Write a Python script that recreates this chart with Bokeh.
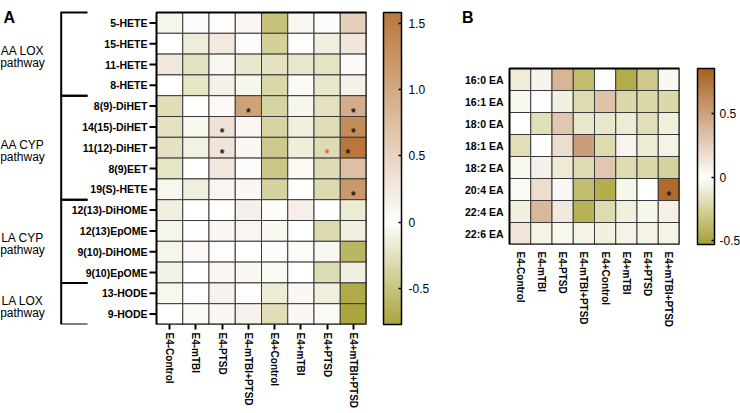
from bokeh.plotting import figure
from bokeh.models import (ColumnDataSource, LinearColorMapper, ColorBar, FixedTicker, Range1d)
from bokeh.core.properties import value
from bokeh.layouts import row, column
from bokeh.embed import file_html
from bokeh.resources import INLINE

# ---------------- data ----------------
groups = ["E4-Control", "E4-mTBI", "E4-PTSD", "E4-mTBI+PTSD",
          "E4+Control", "E4+mTBI", "E4+PTSD", "E4+mTBI+PTSD"]

lipids_a = ["5-HETE", "15-HETE", "11-HETE", "8-HETE",
            "8(9)-DiHET", "14(15)-DiHET", "11(12)-DiHET", "8(9)EET", "19(S)-HETE",
            "12(13)-DiHOME", "12(13)EpOME", "9(10)-DiHOME", "9(10)EpOME",
            "13-HODE", "9-HODE"]

values_a = [
    [-0.08, 0.05, 0.02, 0.12, -0.52, -0.06, 0.04, 0.55],
    [0.00, -0.15, 0.25, 0.03, -0.40, 0.02, -0.12, 0.30],
    [0.28, -0.25, -0.06, -0.20, -0.25, -0.20, -0.23, 0.06],
    [0.01, -0.22, 0.17, -0.08, -0.33, -0.04, -0.20, 0.18],
    [-0.28, 0.00, 0.07, 1.10, -0.36, -0.08, -0.24, 0.95],
    [-0.25, -0.07, 0.35, 0.10, -0.36, -0.13, -0.28, 1.35],
    [-0.24, -0.11, 0.33, 0.09, -0.45, -0.14, -0.30, 1.58],
    [-0.22, 0.01, 0.28, 0.03, -0.48, -0.04, -0.30, 0.75],
    [-0.07, -0.13, 0.12, 0.09, -0.38, 0.00, -0.32, 1.20],
    [-0.12, 0.01, 0.00, 0.17, -0.02, 0.20, 0.00, -0.17],
    [-0.09, 0.02, 0.10, 0.12, -0.06, 0.00, -0.32, -0.12],
    [-0.09, 0.08, 0.02, 0.01, 0.03, -0.03, -0.06, -0.62],
    [-0.10, 0.00, 0.10, 0.10, -0.05, 0.00, -0.30, -0.12],
    [-0.07, 0.02, 0.15, 0.02, -0.16, 0.09, -0.13, -0.72],
    [0.00, -0.05, 0.10, 0.15, -0.28, 0.09, -0.05, -0.77],
]

pathway_names = ["AA LOX", "AA CYP", "LA CYP", "LA LOX"]
pathway_word = "pathway"
pathway_sizes = [4, 5, 4, 2]

stars_a_lipid = ["8(9)-DiHET", "8(9)-DiHET", "14(15)-DiHET", "14(15)-DiHET",
                 "11(12)-DiHET", "11(12)-DiHET", "11(12)-DiHET", "11(12)-DiHET",
                 "19(S)-HETE"]
stars_a_group = ["E4-mTBI+PTSD", "E4+mTBI+PTSD", "E4-PTSD", "E4+mTBI+PTSD",
                 "E4-PTSD", "E4+PTSD", "E4+mTBI+PTSD", "E4+mTBI+PTSD",
                 "E4+mTBI+PTSD"]
stars_a_color = ["#1a1a1a", "#1a1a1a", "#1a1a1a", "#1a1a1a",
                 "#1a1a1a", "#f0603c", "#1a1a1a", "#f0603c", "#1a1a1a"]

cbar_a_low, cbar_a_high = -0.77, 1.58
cbar_a_ticks = [-0.5, 0.0, 0.5, 1.0, 1.5]
cbar_a_labels = ["-0.5", "0", "0.5", "1.0", "1.5"]

lipids_b = ["16:0 EA", "16:1 EA", "18:0 EA", "18:1 EA",
            "18:2 EA", "20:4 EA", "22:4 EA", "22:6 EA"]
values_b = [
    [-0.10, 0.07, 0.40, -0.37, 0.01, -0.46, -0.30, -0.04],
    [-0.04, 0.01, -0.08, -0.20, 0.33, -0.22, -0.22, -0.22],
    [0.00, -0.18, 0.30, -0.13, -0.13, -0.11, -0.18, -0.09],
    [-0.18, 0.00, 0.18, 0.52, -0.20, 0.06, -0.11, -0.07],
    [-0.04, 0.08, -0.11, -0.20, 0.30, -0.20, -0.22, -0.25],
    [-0.03, 0.18, 0.04, -0.37, -0.45, -0.05, 0.00, 0.80],
    [-0.08, 0.38, 0.12, -0.43, -0.20, -0.09, -0.05, 0.09],
    [0.14, -0.07, -0.04, -0.07, -0.08, -0.07, -0.07, -0.07],
]
stars_b_lipid = ["20:4 EA"]
stars_b_group = ["E4+mTBI+PTSD"]
stars_b_color = ["#1a1a1a"]

cbar_b_low, cbar_b_high = -0.53, 0.855
cbar_b_ticks = [-0.5, 0.0, 0.5]
cbar_b_labels = ["-0.5", "0", "0.5"]

# ---------------- helpers ----------------
FONT = value("Liberation Sans")


def build_palette(low, high, neg_rgb, pos_rgb, n=256):
    pal = []
    for i in range(n):
        v = low + (i + 0.5) * (high - low) / n
        if v < 0:
            t, end = v / low, neg_rgb
        else:
            t, end = v / high, pos_rgb
        rgb = tuple(int(round(255 + t * (e - 255))) for e in end)
        pal.append("#%02x%02x%02x" % rgb)
    return pal


def panel(lipids, values, mapper, cell_left, cell_top, cells_w, cells_h,
          fig_w, fig_h, tick_out, x_standoff, ylab_gap, ytick_len):
    """Frame spans the whole panel; cells sit at (cell_left, cell_top) px inside it.
    Data units: x = columns, y = rows counted downward."""
    nc, nr = len(groups), len(lipids)
    colw, rowh = cells_w / nc, cells_h / nr
    frame_w = cell_left + cells_w
    frame_h = cell_top + cells_h
    p = figure(x_range=Range1d(-cell_left / colw, nc),
               y_range=Range1d(nr, -cell_top / rowh),
               frame_width=frame_w, frame_height=frame_h,
               min_border_left=0, min_border_top=0,
               min_border_right=fig_w - frame_w, min_border_bottom=fig_h - frame_h,
               output_backend="svg", toolbar_location=None)
    p.grid.visible = False
    p.outline_line_color = None
    p.yaxis.visible = False
    p.background_fill_color = "white"
    p.border_fill_color = "white"

    xs, ys, vs = [], [], []
    for r in range(nr):
        for c in range(nc):
            xs.append(c + 0.5)
            ys.append(r + 0.5)
            vs.append(values[r][c])
    src = ColumnDataSource(dict(x=xs, y=ys, v=vs))
    p.rect(x="x", y="y", width=1, height=1, source=src,
           fill_color={"field": "v", "transform": mapper},
           line_color="#3a3a3a", line_width=1)
    # heavy border around the cells
    p.rect(x=[nc / 2], y=[nr / 2], width=[nc], height=[nr], fill_color=None,
           line_color="black", line_width=2)

    # row labels and ticks
    rows_c = [r + 0.5 for r in range(nr)]
    if ytick_len > 0:
        p.segment(x0=[-ytick_len / colw] * nr, x1=[0] * nr, y0=rows_c, y1=rows_c,
                  line_color="black", line_width=2)
    p.text(x=[-ylab_gap / colw] * nr, y=rows_c, text=lipids, text_font=FONT,
           text_font_style="bold", text_font_size="10.5px", text_color="black",
           text_align="right", text_baseline="middle")

    # column axis
    ax = p.xaxis[0]
    ticks = [c + 0.5 for c in range(nc)]
    ax.ticker = FixedTicker(ticks=ticks)
    ax.major_label_overrides = {t: g for t, g in zip(ticks, groups)}
    ax.axis_line_color = None
    ax.major_tick_line_color = "black" if tick_out > 0 else None
    ax.major_tick_line_width = 2
    ax.major_tick_in = 0
    ax.major_tick_out = tick_out
    ax.minor_tick_line_color = None
    ax.major_label_orientation = "vertical"
    ax.major_label_standoff = x_standoff
    ax.major_label_text_font = "Liberation Sans"
    ax.major_label_text_font_style = "bold"
    ax.major_label_text_font_size = "10px"
    ax.major_label_text_color = "black"
    return p, colw, rowh


def add_stars(p, lipids, s_lipid, s_group, s_color, colw, rowh):
    cells = {}
    for i, (l, g) in enumerate(zip(s_lipid, s_group)):
        cells.setdefault((l, g), []).append(i)
    xs, ys, cs = [], [], []
    for (l, g), idx in cells.items():
        k = len(idx)
        for j, i in enumerate(idx):
            dx_px = (j - (k - 1) / 2) * 11
            xs.append(groups.index(g) + 0.5 + dx_px / colw)
            ys.append(lipids.index(l) + 0.5 + 6.5 / rowh)
            cs.append(s_color[i])
    p.text(x=xs, y=ys, text=["*"] * len(xs), text_color=cs,
           text_font=FONT, text_font_style="bold", text_font_size="12px",
           text_align="center", text_baseline="alphabetic")


def colorbar(mapper, ticks, labels, x_loc, y_loc, width, height, standoff):
    return ColorBar(color_mapper=mapper, location=(x_loc, y_loc), orientation="vertical",
                    width=width, height=height, padding=0, margin=0,
                    ticker=FixedTicker(ticks=ticks),
                    major_label_overrides={t: s for t, s in zip(ticks, labels)},
                    bar_line_color="black", bar_line_width=1.5,
                    major_tick_line_color="black", major_tick_line_width=1.5,
                    major_tick_in=3, major_tick_out=0,
                    minor_tick_line_color=None,
                    label_standoff=standoff,
                    major_label_text_font="Liberation Sans",
                    major_label_text_font_size="12px",
                    major_label_text_color="black",
                    background_fill_color=None, border_line_color=None)


FIG_H = 412

# ---------------- panel A ----------------
map_a = LinearColorMapper(palette=build_palette(cbar_a_low, cbar_a_high,
                                                (170, 164, 60), (184, 120, 60)),
                          low=cbar_a_low, high=cbar_a_high)
CL_A, CT_A, CW_A, CH_A = 156, 12, 210, 312
pA, colw_a, rowh_a = panel(lipids_a, values_a, map_a, CL_A, CT_A, CW_A, CH_A,
                           450, FIG_H, 5, 3, 9, 7)
add_stars(pA, lipids_a, stars_a_lipid, stars_a_group, stars_a_color, colw_a, rowh_a)
pA.add_layout(colorbar(map_a, cbar_a_ticks, cbar_a_labels, CL_A + CW_A + 17, 0, 18, CH_A, 7))

# pathway brackets and labels (offsets in px from the cell block, converted to data units)
x_vert = -95.3 / colw_a
x_arm = -69.0 / colw_a
x_txt = -134.0 / colw_a
bx, by, tx, ty, tt = [], [], [], [], []
edge = 0
for name, size in zip(pathway_names, pathway_sizes):
    top, bot = edge, edge + size
    bx.append([x_arm, x_vert, x_vert, x_arm])
    by.append([top, top, bot, bot])
    yc = (top + bot) / 2
    tx += [x_txt, x_txt]
    ty += [yc - 2.9 / rowh_a, yc + 8.9 / rowh_a]
    tt += [name, pathway_word]
    edge += size
pA.multi_line(xs=bx, ys=by, line_color="black", line_width=2, line_join="miter")
pA.text(x=tx, y=ty, text=tt, text_font=FONT, text_font_size="12px", text_color="black",
        text_align="center", text_baseline="alphabetic")
pA.text(x=[-153 / colw_a], y=[5 / rowh_a], text=["A"], text_font=FONT,
        text_font_style="bold", text_font_size="16px", text_color="black",
        text_align="left", text_baseline="alphabetic")

# ---------------- panel B ----------------
map_b = LinearColorMapper(palette=build_palette(cbar_b_low, cbar_b_high,
                                                (168, 160, 48), (168, 96, 30)),
                          low=cbar_b_low, high=cbar_b_high)
CL_B, CT_B, CW_B, CH_B = 59, 68, 170, 176
pB, colw_b, rowh_b = panel(lipids_b, values_b, map_b, CL_B, CT_B, CW_B, CH_B,
                           290, FIG_H, 0, 7, 6, 0)
add_stars(pB, lipids_b, stars_b_lipid, stars_b_group, stars_b_color, colw_b, rowh_b)
pB.add_layout(colorbar(map_b, cbar_b_ticks, cbar_b_labels, CL_B + CW_B + 18, 0, 17, CH_B, 5))
pB.text(x=[-47.6 / colw_b], y=[-51 / rowh_b], text=["B"], text_font=FONT,
        text_font_style="bold", text_font_size="16px", text_color="black",
        text_align="left", text_baseline="alphabetic")

layout = row(column(pA), column(pB))
open("out.html", "w").write(file_html(layout, INLINE))
